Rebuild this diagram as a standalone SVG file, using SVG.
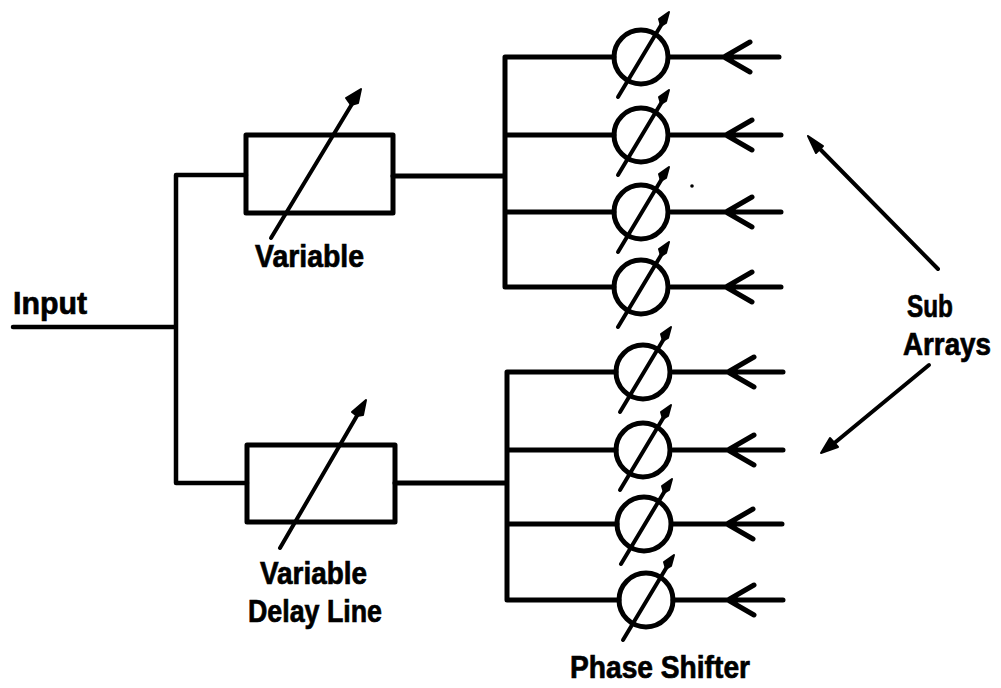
<svg xmlns="http://www.w3.org/2000/svg" width="1001" height="688" viewBox="0 0 1001 688">
<style>
.w{fill:none;stroke:#000;stroke-width:5;stroke-linecap:round;stroke-linejoin:round}
.b{fill:none;stroke:#000;stroke-width:5;stroke-linejoin:round}
.c{fill:none;stroke:#000;stroke-width:5}
.a{fill:none;stroke:#000;stroke-width:4;stroke-linecap:round}
.h{fill:#000;stroke:#000;stroke-width:2;stroke-linejoin:round}
.t{font-family:"Liberation Sans",Arial,sans-serif;font-weight:bold;font-size:31px;fill:#000;stroke:#000;stroke-width:.7}
</style>
<defs>
<g id="ps"><circle class="c" cx="0" cy="0" r="27"/><path class="a" d="M-23 40L22-35"/><path class="h" d="M28-45L18-38L20-31L25-34Z"/></g>
<g id="ant"><path class="w" d="M-55 0H55M26-15L0 0L26 15"/></g>
</defs>
<g id="connectors">
<path class="w" style="stroke-width:4.5" d="M13 327H176M176 175V483M176 175H246M176 483H247"/>
<path class="w" d="M393 176H505M505 57V287M505 57H614M505 135H614M505 212H614M505 287H614"/>
<path class="w" d="M395 483H507M507 372V600M507 372H616M507 450H616M507 524H617M507 600H619"/>
<path class="a" d="M938 269L818 147"/><path class="h" d="M808 136L823 146L816 153Z"/>
<path class="a" d="M929 365L832 445"/><path class="h" d="M821 453L830 438L838 447Z"/>
</g>
<g id="delay-top"><rect class="b" x="246" y="135" width="147" height="78"/><path class="a" d="M271 238L352 104"/><path class="h" d="M361 89L346 98L351 105L358 103Z"/></g>
<g id="delay-bottom"><rect class="b" x="247" y="445" width="148" height="77"/><path class="a" d="M280 548L358 414"/><path class="h" d="M366 400L352 412L357 416L363 415Z"/></g>
<g id="ps1"><use href="#ps" x="641" y="57"/><use href="#ant" x="724" y="57"/></g>
<g id="ps2"><use href="#ps" x="641" y="135"/><use href="#ant" x="726" y="135"/></g>
<g id="ps3"><use href="#ps" x="641" y="212"/><use href="#ant" x="726" y="212"/></g>
<g id="ps4"><use href="#ps" x="641" y="287"/><use href="#ant" x="726" y="287"/></g>
<g id="ps5"><use href="#ps" x="643" y="372"/><use href="#ant" x="728" y="372"/></g>
<g id="ps6"><use href="#ps" x="643" y="450"/><use href="#ant" x="728" y="450"/></g>
<g id="ps7"><use href="#ps" x="644" y="524"/><use href="#ant" x="727" y="524"/></g>
<g id="ps8"><use href="#ps" x="646" y="600"/><use href="#ant" x="728" y="600"/></g>
<circle cx="692" cy="186" r="1.8"/>
<g id="labels">
<text class="t" x="13" y="314" textLength="74" lengthAdjust="spacingAndGlyphs">Input</text>
<text class="t" x="255" y="267" textLength="109" lengthAdjust="spacingAndGlyphs">Variable</text>
<text class="t" x="260" y="584" textLength="107" lengthAdjust="spacingAndGlyphs">Variable</text>
<text class="t" x="248" y="622" textLength="134" lengthAdjust="spacingAndGlyphs">Delay Line</text>
<text class="t" x="570" y="678" textLength="180" lengthAdjust="spacingAndGlyphs">Phase Shifter</text>
<text class="t" x="907" y="317" textLength="46" lengthAdjust="spacingAndGlyphs">Sub</text>
<text class="t" x="903" y="355" textLength="88" lengthAdjust="spacingAndGlyphs">Arrays</text>
</g>
</svg>
